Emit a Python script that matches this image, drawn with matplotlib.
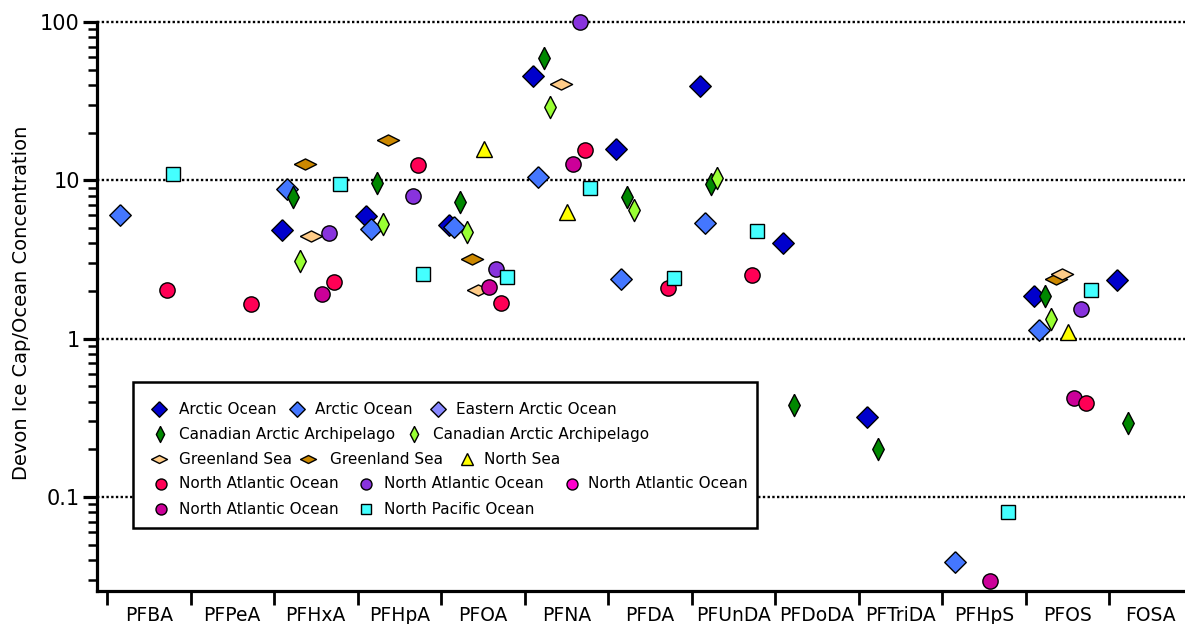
import matplotlib
matplotlib.use("Agg")
import matplotlib.pyplot as plt
from matplotlib.patches import Rectangle
from matplotlib.ticker import FixedLocator, NullFormatter, LogLocator

plt.rcParams['font.family'] = ['DejaVu Sans']

# ---------------- data ----------------
categories = ["PFBA", "PFPeA", "PFHxA", "PFHpA", "PFOA", "PFNA", "PFDA",
              "PFUnDA", "PFDoDA", "PFTriDA", "PFHpS", "PFOS", "FOSA"]

arctic1_cats = ["PFHxA", "PFHpA", "PFOA", "PFNA", "PFDA", "PFUnDA", "PFDoDA", "PFTriDA", "PFOS", "FOSA"]
arctic1_vals = [4.87, 5.97, 5.24, 45.6, 15.8, 39.5, 4.03, 0.318, 1.87, 2.36]

arctic2_cats = ["PFBA", "PFHxA", "PFHpA", "PFOA", "PFNA", "PFDA", "PFUnDA", "PFHpS", "PFOS"]
arctic2_vals = [6.06, 8.84, 4.94, 5.09, 10.5, 2.39, 5.4, 0.039, 1.14]

eastern_cats = []
eastern_vals = []

caa1_cats = ["PFHxA", "PFHpA", "PFOA", "PFNA", "PFDA", "PFUnDA", "PFDoDA", "PFTriDA", "PFOS", "FOSA"]
caa1_vals = [7.87, 9.64, 7.32, 59.3, 7.87, 9.5, 0.383, 0.2, 1.87, 0.295]

caa2_cats = ["PFHxA", "PFHpA", "PFOA", "PFNA", "PFDA", "PFUnDA", "PFOS"]
caa2_vals = [3.11, 5.32, 4.73, 29.1, 6.5, 10.4, 1.34]

green1_cats = ["PFHxA", "PFOA", "PFNA", "PFOS"]
green1_vals = [4.47, 2.04, 40.6, 2.57]

green2_cats = ["PFHxA", "PFHpA", "PFOA", "PFOS"]
green2_vals = [12.7, 18.0, 3.2, 2.39]

northsea_cats = ["PFOA", "PFNA", "PFOS"]
northsea_vals = [15.8, 6.33, 1.1]

nao1_cats = ["PFBA", "PFPeA", "PFHxA", "PFHpA", "PFOA", "PFNA", "PFDA", "PFUnDA", "PFOS"]
nao1_vals = [2.04, 1.66, 2.29, 12.5, 1.69, 15.6, 2.1, 2.53, 0.395]

nao2_cats = ["PFHxA", "PFHpA", "PFOA", "PFNA", "PFOS"]
nao2_vals = [4.67, 7.98, 2.76, 100.0, 1.55]

nao3_cats = []
nao3_vals = []

nao4_cats = ["PFHxA", "PFOA", "PFNA", "PFHpS", "PFOS"]
nao4_vals = [1.92, 2.13, 12.7, 0.0293, 0.424]

npo_cats = ["PFBA", "PFHxA", "PFHpA", "PFOA", "PFNA", "PFDA", "PFUnDA", "PFHpS", "PFOS"]
npo_vals = [11.0, 9.5, 2.57, 2.46, 8.97, 2.42, 4.8, 0.08, 2.04]

legend_labels = ["Arctic Ocean", "Arctic Ocean", "Eastern Arctic Ocean",
                 "Canadian Arctic Archipelago", "Canadian Arctic Archipelago",
                 "Greenland Sea", "Greenland Sea", "North Sea",
                 "North Atlantic Ocean", "North Atlantic Ocean", "North Atlantic Ocean",
                 "North Atlantic Ocean", "North Pacific Ocean"]

# ---------------- styles ----------------
DIAM = [(0, 1), (1, 0), (0, -1), (-1, 0), (0, 1)]
THIN = [(0, 1), (0.52, 0), (0, -1), (-0.52, 0), (0, 1)]
FLAT = [(-1, 0), (0, 0.5), (1, 0), (0, -0.5), (-1, 0)]

# (cats, vals, marker, size, color, offset within category)
series = [
    (arctic1_cats, arctic1_vals, DIAM, 15.5, "#0000CC", 0.10),   # 0
    (arctic2_cats, arctic2_vals, DIAM, 15.5, "#4477FF", 0.16),   # 1
    (eastern_cats, eastern_vals, DIAM, 15.5, "#8888FF", 0.16),   # 2
    (caa1_cats, caa1_vals, THIN, 16.0, "#008800", 0.23),         # 3
    (caa2_cats, caa2_vals, THIN, 16.0, "#99FF33", 0.31),         # 4
    (green2_cats, green2_vals, FLAT, 16.0, "#CC8800", 0.37),     # 5
    (green1_cats, green1_vals, FLAT, 16.0, "#FFCC88", 0.44),     # 6
    (northsea_cats, northsea_vals, "^", 11.5, "#FFFF00", 0.51),  # 7
    (nao4_cats, nao4_vals, "o", 11.0, "#CC0099", 0.58),          # 8
    (nao2_cats, nao2_vals, "o", 11.0, "#8833DD", 0.66),          # 9
    (nao1_cats, nao1_vals, "o", 11.0, "#FF0055", 0.72),          # 10
    (nao3_cats, nao3_vals, "o", 11.0, "#FF00CC", 0.72),          # 11
    (npo_cats, npo_vals, "s", 10.5, "#44FFFF", 0.79),            # 12
]

W, H = 1185, 624
fig = plt.figure(figsize=(W / 100, H / 100), dpi=100)
ax_l, ax_r, ax_t, ax_b = 96.5, 1185, 22, 591
ax = fig.add_axes([ax_l / W, 1 - ax_b / H, (ax_r - ax_l) / W, (ax_b - ax_t) / H])

ax.set_yscale('log')
ax.set_ylim(0.0255, 100)
ax.set_xlim(-0.126, 12.91)

for cats, vals, mk, ms, col, off in series:
    xs = [categories.index(c) + off for c in cats]
    ax.plot(xs, vals, linestyle='none', marker=mk, markersize=ms,
            markerfacecolor=col, markeredgecolor='black', markeredgewidth=1.0,
            zorder=3, clip_on=False)

# spines
for s in ['top', 'right']:
    ax.spines[s].set_visible(False)
for s in ['left', 'bottom']:
    ax.spines[s].set_linewidth(2.3)

# x ticks
ax.xaxis.set_major_locator(FixedLocator(range(len(categories) + 1)))
ax.xaxis.set_major_formatter(NullFormatter())
ax.xaxis.set_minor_locator(FixedLocator([i + 0.5 for i in range(len(categories))]))
ax.set_xticklabels(categories, minor=True)
ax.tick_params(axis='x', which='major', direction='out', length=10, width=2.0)
ax.tick_params(axis='x', which='minor', length=0, pad=11, labelsize=13.5)

# y ticks
ax.yaxis.set_major_locator(FixedLocator([0.1, 1, 10, 100]))
ax.set_yticklabels(["0.1", "1", "10", "100"])
ax.yaxis.set_minor_locator(LogLocator(base=10, subs=range(2, 10)))
ax.yaxis.set_minor_formatter(NullFormatter())
ax.tick_params(axis='y', which='major', direction='out', length=10, width=2.3, pad=2, labelsize=15)
ax.tick_params(axis='y', which='minor', direction='out', length=6.5, width=1.8)

# grid
ax.grid(axis='y', which='major', color='black', linestyle=(0, (1, 1)), linewidth=1.7, zorder=1)
ax.set_axisbelow(True)
for gl in ax.get_ygridlines():
    gl.set_clip_on(False)

fig.text(22 / W, 1 - 303 / H, "Devon Ice Cap/Ocean Concentration", rotation=90,
         ha='center', va='center', fontsize=14)

# ---------------- custom legend ----------------
def fx(px):
    return (px - ax_l) / (ax_r - ax_l)

def fy(py):
    return (ax_b - py) / (ax_b - ax_t)

box = Rectangle((fx(133), fy(528)), fx(757) - fx(133), fy(382) - fy(528),
                transform=ax.transAxes, facecolor='white', edgecolor='black',
                linewidth=1.8, zorder=5, clip_on=False)
ax.add_patch(box)

rows_y = [409, 434, 459, 484, 509]
# (series index, row, marker px x, text px x)
legend_layout = [
    (0, 0, 159, 179), (1, 0, 297, 315), (2, 0, 438, 456),
    (3, 1, 160, 179), (4, 1, 414, 433),
    (6, 2, 159, 179), (5, 2, 308, 330), (7, 2, 467, 484),
    (10, 3, 161, 179), (9, 3, 366, 384), (11, 3, 572, 588),
    (8, 4, 161, 179), (12, 4, 366, 384),
]
for idx, row, mx, tx in legend_layout:
    cats, vals, mk, ms, col, off = series[idx]
    y = fy(rows_y[row])
    ax.plot([fx(mx)], [y], transform=ax.transAxes, linestyle='none', marker=mk,
            markersize=ms * 0.72, markerfacecolor=col, markeredgecolor='black',
            markeredgewidth=1.0, zorder=6, clip_on=False)
    ax.text(fx(tx), y, legend_labels[idx], transform=ax.transAxes, ha='left',
            va='center', fontsize=11, zorder=6)

fig.savefig("out.png", dpi=100)
